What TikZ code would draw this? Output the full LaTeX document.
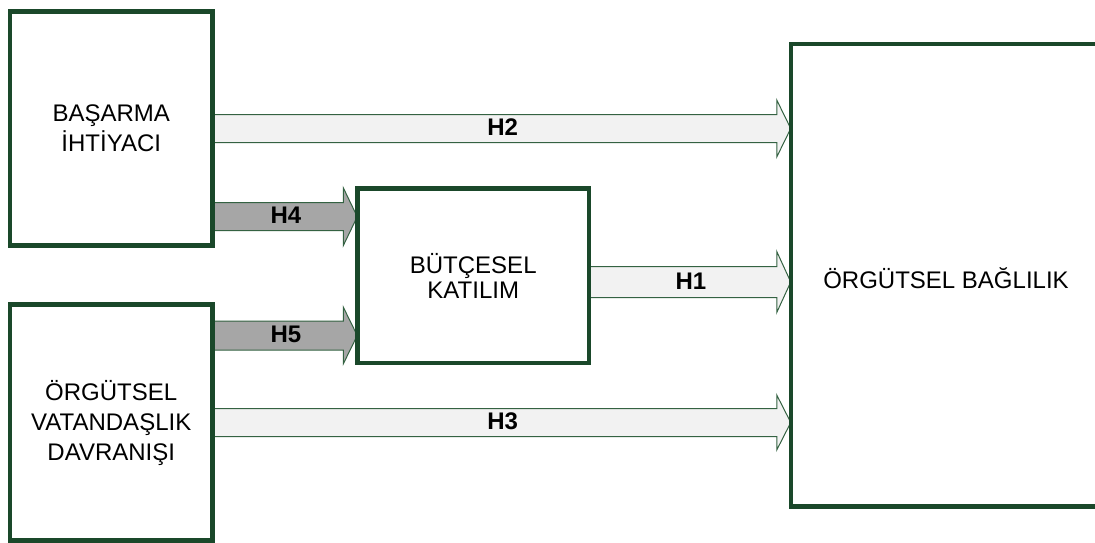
\documentclass[tikz,border=0pt]{standalone}
\usepackage{fontspec}
\setmainfont{Liberation Sans}
\usetikzlibrary{calc,backgrounds}
\definecolor{boxgreen}{RGB}{26,72,42}
\definecolor{arrgreen}{RGB}{52,98,66}
\definecolor{lightfill}{RGB}{242,242,242}
\definecolor{darkfill}{RGB}{166,166,166}
\tikzset{
  box/.style={draw=boxgreen, line width=4.5pt, fill=white, rectangle, inner sep=0pt,
    align=center, font=\fontsize{24}{30}\selectfont},
  fat/.style={draw=arrgreen, line width=1pt, line join=miter},
  lightarrow/.style={fat, fill=lightfill},
  darkarrow/.style={fat, fill=darkfill},
  hlabel/.style={font=\fontsize{24}{28}\selectfont\bfseries, inner sep=0pt},
}
% #1 style, #2 from node, #3 to node, #4 y, #5 shaft half, #6 head half, #7 label name, #8 label text
\newcommand\fatarrow[8]{%
  \coordinate (#7y) at (0,#4);
  \coordinate (#7s) at ($(#2.east |- #7y)+(-3,0)$);
  \coordinate (#7t) at ($(#3.west |- #7y)+(2,0)$);
  \begin{pgfonlayer}{background}
  \draw[#1] ($(#7s)+(0,-#5)$) -- ($(#7t)+(-14,-#5)$) -- ($(#7t)+(-14,-#6)$) -- (#7t)
     -- ($(#7t)+(-14,#6)$) -- ($(#7t)+(-14,#5)$) -- ($(#7s)+(0,#5)$) -- cycle;
  \node[hlabel] (#7) at ($(#7s)!0.5!(#7t)+(1.5,-1)$) {#8};
  \end{pgfonlayer}
}
\begin{document}
\begin{tikzpicture}[x=1pt,y=-1pt]
\useasboundingbox (0,0) rectangle (1095,543);
\clip (0,0) rectangle (1095,543);
\node[box, minimum width=202.5pt, minimum height=233.8pt] (A) at (111.25,128.6) {BAŞARMA\\İHTİYACI};
\node[box, minimum width=202.5pt, minimum height=236pt] (C) at (111.25,422.7) {ÖRGÜTSEL\\VATANDAŞLIK\\DAVRANIŞI};
\node[box, minimum width=231.5pt, minimum height=174.3pt, font=\fontsize{24}{25}\selectfont] (B) at (473.25,275.85) {BÜTÇESEL\\KATILIM};
\node[box, minimum width=310pt, minimum height=462.7pt] (D) at (946,275.35) {};
\node[font=\fontsize{24}{30}\selectfont, inner sep=0pt, anchor=base] (dtext) at (946,288) {ÖRGÜTSEL BAĞLILIK};
\fatarrow{lightarrow}{A}{D}{128.5}{14}{28.5}{h2}{H2}
\fatarrow{darkarrow}{A}{B}{216.7}{14}{29}{h4}{H4}
\fatarrow{darkarrow}{C}{B}{335.5}{14.5}{28.5}{h5}{H5}
\fatarrow{lightarrow}{B}{D}{282}{15.5}{30.5}{h1}{H1}
\fatarrow{lightarrow}{C}{D}{422.5}{14}{27.5}{h3}{H3}
\end{tikzpicture}
\end{document}
